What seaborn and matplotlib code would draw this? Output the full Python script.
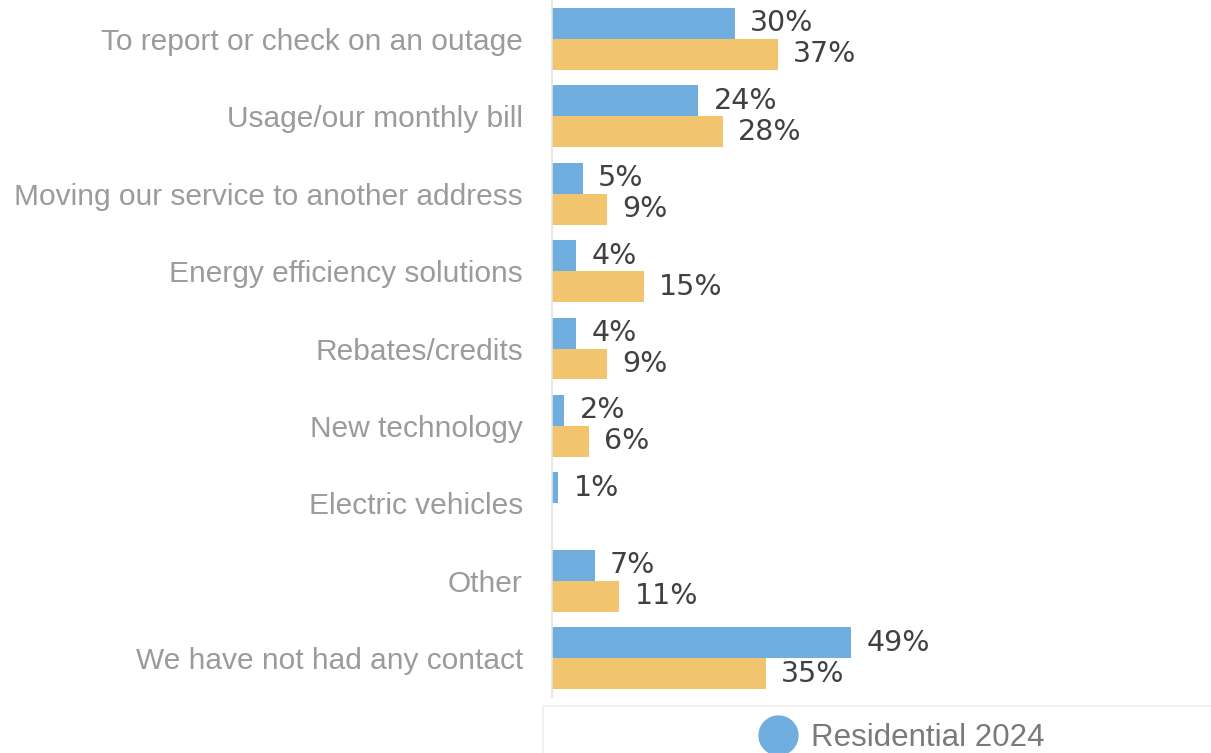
import matplotlib
matplotlib.use("Agg")
import matplotlib.pyplot as plt
from matplotlib.lines import Line2D
from matplotlib.patches import Rectangle
import seaborn as sns
import pandas as pd
import numpy as np

categories = [
    "To report or check on an outage",
    "Usage/our monthly bill",
    "Moving our service to another address",
    "Energy efficiency solutions",
    "Rebates/credits",
    "New technology",
    "Electric vehicles",
    "Other",
    "We have not had any contact",
]
series_names = ["Residential 2024", "Residential 2023"]
values_2024 = [30, 24, 5, 4, 4, 2, 1, 7, 49]
values_other = [37, 28, 9, 15, 9, 6, np.nan, 11, 35]
colors = ["#6FAEDF", "#F2C46E"]

df = pd.DataFrame({
    "category": categories * 2,
    "series": [series_names[0]] * len(categories) + [series_names[1]] * len(categories),
    "value": values_2024 + values_other,
})

sns.set_theme(style="white")
plt.rcParams["font.family"] = ["Liberation Sans", "DejaVu Sans"]

fig = plt.figure(figsize=(12.11, 7.53), dpi=100)
ax = fig.add_axes([552 / 1211, 1 - 697 / 753, 1 - 552 / 1211, 697 / 753])

sns.barplot(data=df, y="category", x="value", hue="series", order=categories,
            hue_order=series_names, palette=colors, orient="h", width=0.8,
            saturation=1, linewidth=0, ax=ax, legend=False)

for cont in ax.containers:
    ax.bar_label(cont, fmt="%.0f%%", padding=11, color="#404040",
                 fontsize=20.5, family="DejaVu Sans")

ax.set_xlim(0, 108)
ax.set_ylim(8.5, -0.5)
ax.set_xlabel("")
ax.set_ylabel("")
ax.set_xticks([])
ax.tick_params(axis="y", length=0, pad=21, labelsize=21.5, labelcolor="#9B9B9B")
for s in ["top", "right", "bottom"]:
    ax.spines[s].set_visible(False)
ax.spines["left"].set_color("#E2E2E2")
ax.spines["left"].set_linewidth(1.2)

# faint legend box border (top-left corner visible)
fig.add_artist(Rectangle((543 / 1211, -0.05), 1.0, (753 - 706) / 753 + 0.05,
                         transform=fig.transFigure, fill=False,
                         edgecolor="#EFEFEF", linewidth=1.2))

handles = [Line2D([0], [0], marker="o", linestyle="", markersize=28,
                  markerfacecolor=colors[0], markeredgecolor=colors[0])]
fig.legend(handles=handles, labels=[series_names[0]], loc="center left",
           bbox_to_anchor=(747 / 1211, 1 - 738 / 753), frameon=False,
           fontsize=22.5, labelcolor="#7A7A7A", handletextpad=0.05,
           borderaxespad=0, borderpad=0)

fig.savefig("out.png", dpi=100, facecolor="white")
